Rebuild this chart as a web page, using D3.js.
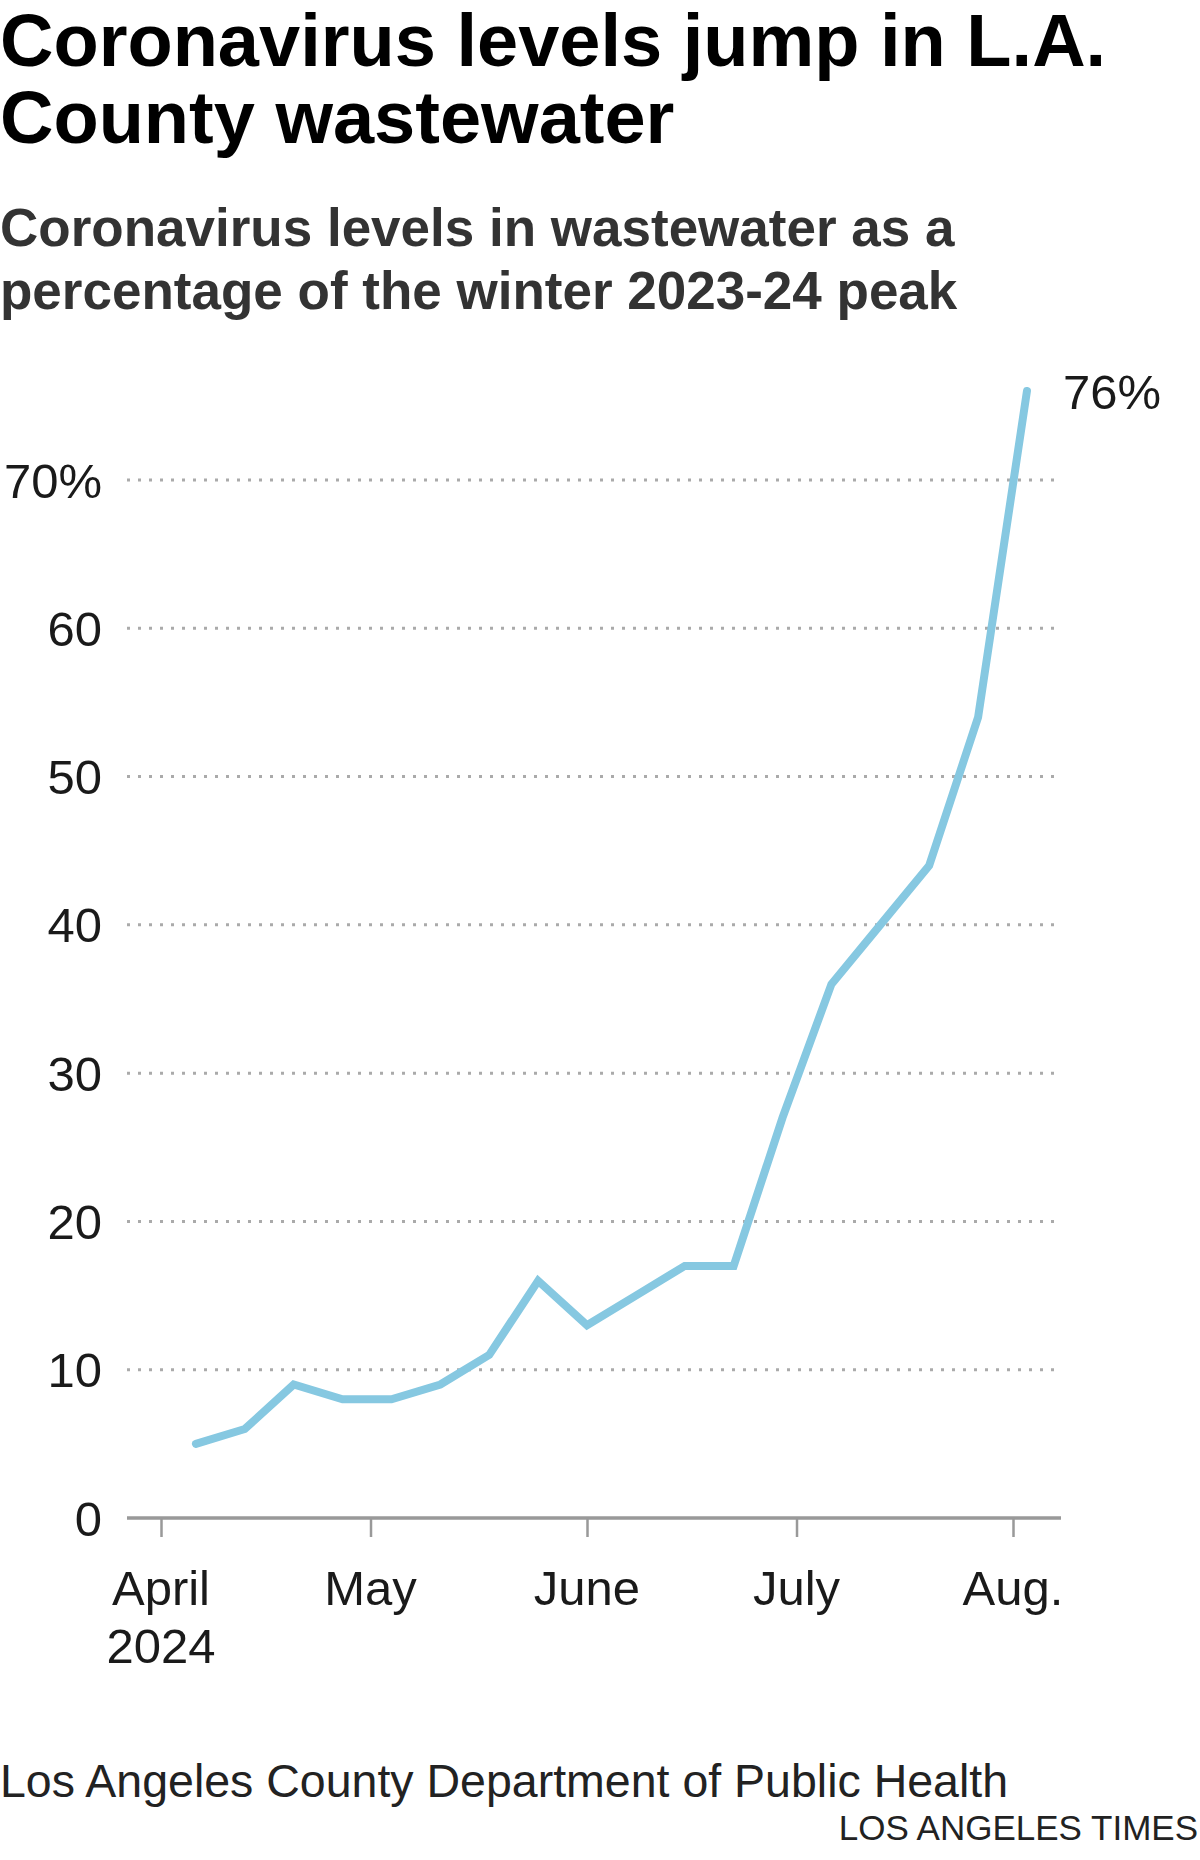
<!DOCTYPE html>
<html>
<head>
<meta charset="utf-8">
<script src="https://cdn.jsdelivr.net/npm/d3@7"></script>
<style>
  html, body { margin: 0; padding: 0; background: #fff; }
  svg { display: block; }
  text { font-family: "Liberation Sans", Arial, sans-serif; }
</style>
</head>
<body>
<svg id="chart" width="1200" height="1860"></svg>
<script>
// ---- Data ----
const dates = ["2024-04-06","2024-04-13","2024-04-20","2024-04-27","2024-05-04","2024-05-11",
  "2024-05-18","2024-05-25","2024-06-01","2024-06-08","2024-06-15","2024-06-22",
  "2024-06-29","2024-07-06","2024-07-13","2024-07-20","2024-07-27","2024-08-03"];
const values = [5, 6, 9, 8, 8, 9, 11, 16, 13, 15, 17, 17, 27, 36, 40, 44, 54, 76];
const yTicks = [0, 10, 20, 30, 40, 50, 60, 70];
const xTickDates = ["2024-04-01","2024-05-01","2024-06-01","2024-07-01","2024-08-01"];
const xTickLabels = [["April","2024"],["May"],["June"],["July"],["Aug."]];
const titleLines = ["Coronavirus levels jump in L.A.", "County wastewater"];
const subtitleLines = ["Coronavirus levels in wastewater as a", "percentage of the winter 2023-24 peak"];
const sourceText = "Los Angeles County Department of Public Health";
const creditText = "LOS ANGELES TIMES";

const parse = d3.timeParse("%Y-%m-%d");
const data = dates.map((d, i) => ({ date: parse(d), value: values[i] }));

const svg = d3.select("#chart");

// Titles
svg.append("g").selectAll("text").data(titleLines).join("text")
  .attr("x", 0).attr("y", (d, i) => i === 0 ? 66 : 143)
  .attr("font-size", 74).attr("font-weight", 700).attr("fill", "#000")
  .text(d => d);

svg.append("g").selectAll("text").data(subtitleLines).join("text")
  .attr("x", 0).attr("y", (d, i) => 246 + i * 63)
  .attr("font-size", 53).attr("font-weight", 700).attr("fill", "#333")
  .text(d => d);

// Scales
const x = d3.scaleTime().domain([parse("2024-04-01"), parse("2024-08-01")]).range([161, 1013]);
const y = d3.scaleLinear().domain([0, 70]).range([1518, 480]);

const gridX0 = 127, gridX1 = 1054, axisX1 = 1061;

// Gridlines (dotted)
svg.append("g").selectAll("line").data(yTicks.filter(d => d > 0)).join("line")
  .attr("x1", gridX0).attr("x2", gridX1)
  .attr("y1", d => y(d)).attr("y2", d => y(d))
  .attr("stroke", "#aaa").attr("stroke-width", 3)
  .attr("stroke-dasharray", "3,8");

// Y tick labels
svg.append("g").selectAll("text").data(yTicks).join("text")
  .attr("x", 102).attr("y", d => y(d))
  .attr("dy", "0.36em")
  .attr("text-anchor", "end")
  .attr("font-size", 49).attr("fill", "#1a1a1a")
  .text(d => d === 70 ? d + "%" : d);

// X axis via d3.axisBottom
const xAxis = d3.axisBottom(x)
  .tickValues(xTickDates.map(parse))
  .tickSize(19)
  .tickFormat("");
const gx = svg.append("g").attr("transform", `translate(0,${y(0)})`).call(xAxis);
gx.select(".domain").remove();
gx.selectAll(".tick line").attr("stroke", "#999").attr("stroke-width", 2.5);

svg.append("line")
  .attr("x1", gridX0).attr("x2", axisX1)
  .attr("y1", y(0)).attr("y2", y(0))
  .attr("stroke", "#999").attr("stroke-width", 3.5);

// X tick labels
const xl = svg.append("g").selectAll("text").data(xTickDates).join("text")
  .attr("x", d => x(parse(d)))
  .attr("y", 1605)
  .attr("text-anchor", "middle")
  .attr("font-size", 49).attr("fill", "#1a1a1a");
xl.selectAll("tspan").data((d, i) => xTickLabels[i]).join("tspan")
  .attr("x", function() { return d3.select(this.parentNode).attr("x"); })
  .attr("dy", (d, i) => i === 0 ? 0 : 58)
  .text(d => d);

// Line
const line = d3.line().x(d => x(d.date)).y(d => y(d.value));
svg.append("path").datum(data)
  .attr("d", line)
  .attr("fill", "none")
  .attr("stroke", "#86c8e1")
  .attr("stroke-width", 8)
  .attr("stroke-linejoin", "miter")
  .attr("stroke-linecap", "round");

// End label
const last = data[data.length - 1];
svg.append("text")
  .attr("x", x(last.date) + 36)
  .attr("y", y(last.value))
  .attr("dy", "0.36em")
  .attr("font-size", 49).attr("fill", "#1a1a1a")
  .text(last.value + "%");

// Source & credit
svg.append("text").attr("x", 0).attr("y", 1797)
  .attr("font-size", 46.5).attr("fill", "#222").text(sourceText);
svg.append("text").attr("x", 1198).attr("y", 1840)
  .attr("text-anchor", "end")
  .attr("font-size", 35).attr("fill", "#222").text(creditText);
</script>
</body>
</html>
